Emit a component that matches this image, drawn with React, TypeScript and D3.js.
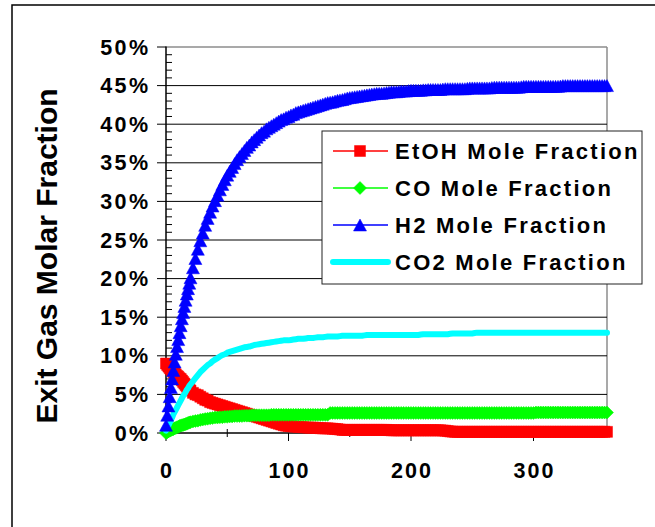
import * as d3 from 'd3';

// time axis (x) and the four series (values in %)
const times = [
  0, 1, 2, 3, 4, 5, 6, 7, 8, 9, 10, 11, 12, 13, 14, 15, 16, 17, 18, 19, 20,
  22, 24, 26, 28, 30, 32, 34, 36, 38, 40,
  42, 44, 46, 48, 50, 52, 54, 56, 58, 60,
  62, 64, 66, 68, 70, 72, 74, 76, 78, 80,
  82, 84, 86, 88, 90, 92, 94, 96, 98, 100,
  102, 104, 106, 108, 110, 112, 114, 116, 118, 120,
  122, 124, 126, 128, 130, 132, 134, 136, 138, 140,
  142, 144, 146, 148, 150, 152, 154, 156, 158, 160,
  162, 164, 166, 168, 170, 172, 174, 176, 178, 180,
  182, 184, 186, 188, 190, 192, 194, 196, 198, 200,
  202, 204, 206, 208, 210, 212, 214, 216, 218, 220,
  222, 224, 226, 228, 230, 232, 234, 236, 238, 240,
  242, 244, 246, 248, 250, 252, 254, 256, 258, 260,
  262, 264, 266, 268, 270, 272, 274, 276, 278, 280,
  282, 284, 286, 288, 290, 292, 294, 296, 298, 300,
  302, 304, 306, 308, 310, 312, 314, 316, 318, 320,
  322, 324, 326, 328, 330, 332, 334, 336, 338, 340,
  342, 344, 346, 348, 350, 352, 354, 356, 358, 360,
];

const etohFraction = [
  9.0, 8.8, 8.6, 8.4, 8.3, 8.1, 7.9, 7.7, 7.6, 7.4, 7.3, 7.1, 7.0, 6.8, 6.6, 6.4, 6.2, 6.0, 5.9, 5.7, 5.5,
  5.2, 5.0, 4.9, 4.7, 4.5, 4.3, 4.2, 4.0, 3.9, 3.8,
  3.7, 3.6, 3.5, 3.4, 3.3, 3.2, 3.1, 3.0, 2.9, 2.8,
  2.7, 2.6, 2.5, 2.4, 2.3, 2.2, 2.1, 2.0, 1.9, 1.8,
  1.7, 1.6, 1.5, 1.4, 1.3, 1.2, 1.1, 1.0, 0.95, 0.9,
  0.88, 0.85, 0.82, 0.8, 0.78, 0.75, 0.72, 0.7, 0.7, 0.7,
  0.68, 0.65, 0.62, 0.6, 0.6, 0.6, 0.58, 0.55, 0.52, 0.5,
  0.45, 0.4, 0.4, 0.4, 0.4, 0.4, 0.4, 0.4, 0.4, 0.4,
  0.4, 0.4, 0.4, 0.4, 0.4, 0.4, 0.4, 0.4, 0.4, 0.4,
  0.38, 0.35, 0.35, 0.35, 0.35, 0.35, 0.35, 0.35, 0.35, 0.35,
  0.35, 0.35, 0.35, 0.35, 0.35, 0.35, 0.35, 0.35, 0.35, 0.35,
  0.35, 0.35, 0.32, 0.3, 0.25, 0.2, 0.18, 0.15, 0.15, 0.15,
  0.15, 0.15, 0.15, 0.15, 0.15, 0.15, 0.15, 0.15, 0.15, 0.15,
  0.15, 0.15, 0.15, 0.15, 0.15, 0.15, 0.15, 0.15, 0.15, 0.15,
  0.15, 0.15, 0.15, 0.15, 0.15, 0.15, 0.15, 0.15, 0.15, 0.15,
  0.15, 0.15, 0.15, 0.15, 0.15, 0.15, 0.15, 0.15, 0.15, 0.15,
  0.15, 0.15, 0.15, 0.15, 0.15, 0.15, 0.15, 0.15, 0.15, 0.15,
  0.15, 0.15, 0.15, 0.15, 0.15, 0.15, 0.15, 0.15, 0.15, 0.15,
];

const coFraction = [
  0.0, 0.1, 0.2, 0.3, 0.35, 0.45, 0.5, 0.6, 0.65, 0.75, 0.8, 0.9, 0.95, 1.0, 1.05, 1.1, 1.15, 1.2, 1.3, 1.35, 1.4,
  1.5, 1.55, 1.6, 1.7, 1.75, 1.8, 1.85, 1.9, 1.95, 2.0,
  2.0, 2.05, 2.05, 2.1, 2.1, 2.15, 2.15, 2.2, 2.2, 2.2,
  2.2, 2.25, 2.25, 2.25, 2.3, 2.3, 2.3, 2.3, 2.3, 2.3,
  2.3, 2.3, 2.35, 2.35, 2.35, 2.35, 2.35, 2.35, 2.35, 2.35,
  2.35, 2.35, 2.35, 2.35, 2.35, 2.35, 2.35, 2.35, 2.35, 2.35,
  2.35, 2.35, 2.35, 2.35, 2.35, 2.35, 2.6, 2.6, 2.6, 2.6,
  2.6, 2.6, 2.6, 2.6, 2.6, 2.6, 2.6, 2.6, 2.6, 2.6,
  2.6, 2.6, 2.6, 2.6, 2.6, 2.6, 2.6, 2.6, 2.6, 2.6,
  2.6, 2.6, 2.6, 2.6, 2.6, 2.6, 2.6, 2.6, 2.6, 2.6,
  2.6, 2.6, 2.6, 2.6, 2.6, 2.6, 2.6, 2.6, 2.6, 2.6,
  2.6, 2.6, 2.6, 2.6, 2.6, 2.6, 2.6, 2.6, 2.6, 2.6,
  2.6, 2.6, 2.6, 2.6, 2.6, 2.6, 2.6, 2.6, 2.6, 2.6,
  2.6, 2.6, 2.6, 2.6, 2.6, 2.6, 2.6, 2.6, 2.6, 2.6,
  2.6, 2.6, 2.6, 2.6, 2.6, 2.6, 2.6, 2.6, 2.6, 2.6,
  2.65, 2.65, 2.65, 2.65, 2.65, 2.65, 2.65, 2.65, 2.65, 2.65,
  2.65, 2.65, 2.65, 2.65, 2.65, 2.65, 2.65, 2.65, 2.65, 2.65,
  2.65, 2.65, 2.65, 2.65, 2.65, 2.65, 2.65, 2.65, 2.65, 2.65,
];

const h2Fraction = [
  1.0, 2.3, 3.5, 4.7, 5.9, 7.0, 8.1, 9.2, 10.2, 11.2, 12.1, 13.0, 13.9, 14.8, 15.6, 16.4, 17.2, 18.0, 18.7, 19.4, 20.1,
  21.4, 22.6, 23.8, 24.9, 25.9, 26.9, 27.8, 28.6, 29.4, 30.1,
  30.8, 31.5, 32.2, 32.8, 33.4, 33.9, 34.4, 34.9, 35.4, 35.8,
  36.2, 36.6, 37.0, 37.3, 37.7, 38.0, 38.3, 38.6, 38.9, 39.1,
  39.4, 39.6, 39.8, 40.0, 40.2, 40.4, 40.6, 40.7, 40.9, 41.0,
  41.2, 41.3, 41.5, 41.6, 41.7, 41.8, 41.9, 42.0, 42.1, 42.2,
  42.3, 42.4, 42.5, 42.6, 42.7, 42.8, 42.85, 42.9, 43.0, 43.1,
  43.15, 43.2, 43.3, 43.4, 43.45, 43.5, 43.55, 43.6, 43.65, 43.7,
  43.75, 43.8, 43.85, 43.9, 43.95, 44.0, 44.0, 44.0, 44.05, 44.1,
  44.15, 44.2, 44.2, 44.2, 44.25, 44.3, 44.3, 44.3, 44.35, 44.4,
  44.4, 44.4, 44.4, 44.4, 44.45, 44.45, 44.5, 44.5, 44.5, 44.5,
  44.5, 44.5, 44.55, 44.6, 44.6, 44.6, 44.6, 44.6, 44.6, 44.6,
  44.6, 44.6, 44.65, 44.7, 44.7, 44.7, 44.7, 44.7, 44.7, 44.7,
  44.7, 44.7, 44.75, 44.8, 44.8, 44.8, 44.8, 44.8, 44.8, 44.8,
  44.8, 44.8, 44.8, 44.8, 44.85, 44.9, 44.9, 44.9, 44.9, 44.9,
  44.9, 44.9, 44.9, 44.9, 44.9, 44.9, 44.9, 44.9, 44.9, 44.9,
  44.95, 45.0, 45.0, 45.0, 45.0, 45.0, 45.0, 45.0, 45.0, 45.0,
  45.0, 45.0, 45.0, 45.0, 45.0, 45.0, 45.0, 45.0, 45.0, 45.0,
];

const co2Fraction = [
  0.3, 0.6, 1.0, 1.3, 1.7, 2.0, 2.4, 2.7, 3.0, 3.3, 3.6, 3.9, 4.2, 4.5, 4.8, 5.0, 5.3, 5.6, 5.8, 6.1, 6.3,
  6.7, 7.1, 7.5, 7.9, 8.2, 8.5, 8.8, 9.0, 9.3, 9.5,
  9.7, 9.9, 10.1, 10.2, 10.4, 10.5, 10.6, 10.7, 10.8, 10.9,
  11.0, 11.1, 11.15, 11.2, 11.3, 11.4, 11.45, 11.5, 11.55, 11.6,
  11.65, 11.7, 11.75, 11.8, 11.85, 11.9, 11.95, 12.0, 12.0, 12.0,
  12.05, 12.1, 12.15, 12.2, 12.2, 12.2, 12.25, 12.3, 12.3, 12.3,
  12.35, 12.4, 12.4, 12.4, 12.45, 12.5, 12.5, 12.5, 12.5, 12.5,
  12.55, 12.6, 12.6, 12.6, 12.6, 12.6, 12.6, 12.6, 12.6, 12.6,
  12.65, 12.7, 12.7, 12.7, 12.7, 12.7, 12.7, 12.7, 12.7, 12.7,
  12.7, 12.7, 12.7, 12.7, 12.7, 12.7, 12.7, 12.7, 12.7, 12.7,
  12.7, 12.7, 12.7, 12.75, 12.8, 12.8, 12.8, 12.8, 12.8, 12.8,
  12.8, 12.8, 12.8, 12.8, 12.8, 12.85, 12.9, 12.9, 12.9, 12.9,
  12.9, 12.9, 12.9, 12.9, 12.9, 12.95, 13.0, 13.0, 13.0, 13.0,
  13.0, 13.0, 13.0, 13.0, 13.0, 13.0, 13.0, 13.0, 13.0, 13.0,
  13.0, 13.0, 13.0, 13.0, 13.0, 13.0, 13.0, 13.0, 13.0, 13.0,
  13.0, 13.0, 13.0, 13.0, 13.0, 13.0, 13.0, 13.0, 13.0, 13.0,
  13.0, 13.0, 13.0, 13.0, 13.0, 13.0, 13.0, 13.0, 13.0, 13.0,
  13.0, 13.0, 13.0, 13.0, 13.0, 13.0, 13.0, 13.0, 13.0, 13.0,
];

const seriesNames = ['EtOH Mole Fraction', 'CO Mole Fraction', 'H2 Mole Fraction', 'CO2 Mole Fraction'];
const yAxisTitle = 'Exit Gas Molar Fraction';

const FONT = "'Liberation Sans', Arial, Helvetica, sans-serif";

// marker shapes, centred on 0,0
const markerPath = (kind, s) => {
  if (kind === 'square') return `M${-s},${-s}H${s}V${s}H${-s}Z`;
  if (kind === 'diamond') return `M0,${-s}L${s},0L0,${s}L${-s},0Z`;
  if (kind === 'triangle') return `M0,${-s + 0.5}L${s},${s - 0.5}L${-s},${s - 0.5}Z`;
  return null;
};

const series = [
  { name: seriesNames[0], values: etohFraction, color: '#ff0000', marker: 'square', size: 5.5, width: 1.5 },
  { name: seriesNames[1], values: coFraction, color: '#00ff00', marker: 'diamond', size: 6.5, width: 1.5 },
  { name: seriesNames[2], values: h2Fraction, color: '#0000ff', marker: 'triangle', size: 6.5, width: 1.5 },
  { name: seriesNames[3], values: co2Fraction, color: '#00ffff', marker: null, size: 0, width: 6 },
];
// drawing order: cyan line sits under the blue triangles
const drawOrder = [0, 1, 3, 2];

export default function App() {
  const W = 655;
  const H = 527;
  const x = d3.scaleLinear().domain([0, 360]).range([166, 607]);
  const y = d3.scaleLinear().domain([0, 50]).range([433, 47]);

  const yMajor = y.ticks(10);
  const yMinor = y.ticks(50).filter((v) => v % 5 !== 0);
  const xMajor = x.ticks(4);
  const xMinor = d3.range(50, 360, 100);
  const pct = d3.format('.0%');

  const line = d3
    .line()
    .x((d) => x(d[0]))
    .y((d) => y(d[1]));

  const legendX = 322;
  const legendY = 131;
  const legendW = 320;
  const legendH = 153;
  const legendRow = d3.scaleLinear().domain([0, 3]).range([151, 262]);

  const [x0, x1] = x.range();
  const [yb, yt] = y.range();

  return (
    <svg
      width={W}
      height={H}
      style={{ position: 'absolute', left: 0, top: 0, background: '#fff' }}
      fontFamily={FONT}
    >
      <rect x={0} y={0} width={W} height={H} fill="#fff" />
      {/* outer chart border */}
      <rect x={12} y={5} width={W + 40} height={H + 40} fill="none" stroke="#000" strokeWidth={1.5} />

      {/* plot area frame (gray) */}
      <line x1={x0} x2={x1} y1={yt} y2={yt} stroke="#8c8c8c" strokeWidth={1.5} />
      <line x1={x1} x2={x1} y1={yt} y2={yb} stroke="#8c8c8c" strokeWidth={1.5} />

      {/* gridlines */}
      {yMajor
        .filter((v) => v > 0 && v < 50)
        .map((v) => (
          <line key={'g' + v} x1={x0} x2={x1} y1={y(v)} y2={y(v)} stroke="#000" strokeWidth={1} />
        ))}

      {/* y axis */}
      <line x1={x0} x2={x0} y1={yt - 0.5} y2={yb} stroke="#000" strokeWidth={1.5} />
      {yMajor.map((v) => (
        <line key={'ym' + v} x1={x0 - 9} x2={x0} y1={y(v)} y2={y(v)} stroke="#000" strokeWidth={1} />
      ))}
      {yMinor.map((v) => (
        <line key={'yn' + v} x1={x0} x2={x0 + 6} y1={y(v)} y2={y(v)} stroke="#000" strokeWidth={1} />
      ))}
      {yMajor.map((v) => (
        <text
          key={'yl' + v}
          x={150.5}
          y={y(v) + 7.5}
          textAnchor="end"
          fontSize={21.5}
          fontWeight="bold"
          letterSpacing={2.4}
          fill="#000"
        >
          {pct(v / 100)}
        </text>
      ))}

      {/* x axis */}
      <line x1={x0} x2={x1} y1={yb} y2={yb} stroke="#000" strokeWidth={1.5} />
      {xMajor.map((v) => (
        <line key={'xm' + v} x1={x(v)} x2={x(v)} y1={yb} y2={yb + 8} stroke="#000" strokeWidth={1} />
      ))}
      {xMinor.map((v) => (
        <line key={'xn' + v} x1={x(v)} x2={x(v)} y1={yb - 4} y2={yb + 4} stroke="#000" strokeWidth={1} />
      ))}
      {xMajor.map((v) => (
        <text
          key={'xl' + v}
          x={x(v) + 1}
          y={478}
          textAnchor="middle"
          fontSize={21.5}
          fontWeight="bold"
          letterSpacing={2}
          fill="#000"
        >
          {String(v)}
        </text>
      ))}

      {/* y axis title */}
      <text
        transform="translate(57,256) rotate(-90)"
        textAnchor="middle"
        fontSize={30}
        fontWeight="bold"
        fill="#000"
      >
        {yAxisTitle}
      </text>

      {/* series */}
      {drawOrder.map((i) => {
        const s = series[i];
        const pts = times.map((t, k) => [t, s.values[k]]);
        return (
          <g key={s.name}>
            <path
              d={line(pts)}
              fill="none"
              stroke={s.color}
              strokeWidth={s.width}
              strokeLinejoin="round"
              strokeLinecap={s.marker ? 'butt' : 'round'}
            />
            {s.marker &&
              pts.map((p, k) => (
                <path
                  key={k}
                  d={markerPath(s.marker, s.size)}
                  transform={`translate(${x(p[0])},${y(p[1])})`}
                  fill={s.color}
                  stroke={s.color}
                  strokeWidth={0.5}
                />
              ))}
          </g>
        );
      })}

      {/* legend */}
      <rect x={legendX} y={legendY} width={legendW} height={legendH} fill="#fff" stroke="#222" strokeWidth={1} />
      {series.map((s, i) => {
        const cy = legendRow(i);
        return (
          <g key={'lg' + i}>
            <line
              x1={333}
              x2={388}
              y1={cy}
              y2={cy}
              stroke={s.color}
              strokeWidth={s.width}
              strokeLinecap={s.marker ? 'butt' : 'round'}
            />
            {s.marker && (
              <path
                d={markerPath(s.marker, s.size)}
                transform={`translate(360,${cy})`}
                fill={s.color}
                stroke={s.color}
                strokeWidth={0.5}
              />
            )}
            <text x={395} y={cy + 7.8} fontSize={22} fontWeight="bold" letterSpacing={2.25} fill="#000">
              {s.name}
            </text>
          </g>
        );
      })}
    </svg>
  );
}
